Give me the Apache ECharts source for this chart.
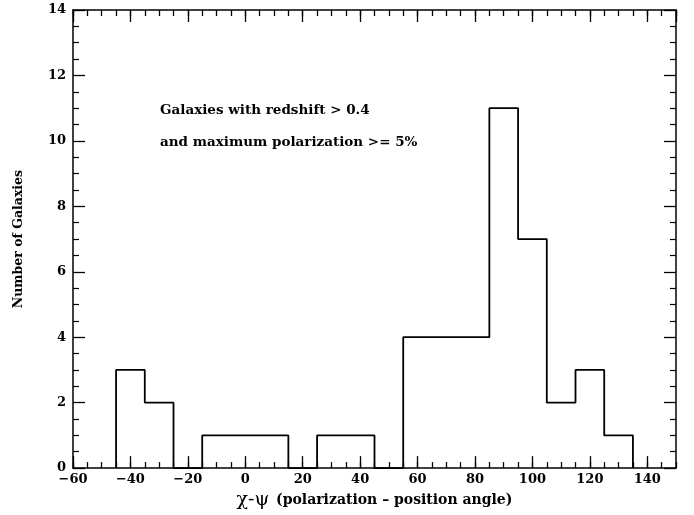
<!DOCTYPE html>
<html>
<head>
<meta charset="utf-8">
<script src="https://cdn.jsdelivr.net/npm/echarts@6/dist/echarts.min.js"></script>
<style>
html,body{margin:0;padding:0;background:#fff;}
#chart{width:694px;height:515px;}
</style>
</head>
<body>
<div id="chart"></div>
<script>
// Histogram bin edges (degrees) and counts per bin
var binEdges = [-45, -35, -25, -15, -5, 5, 15, 25, 35, 45, 55, 65, 75, 85, 95, 105, 115, 125, 135];
var counts   = [3, 2, 0, 1, 1, 1, 0, 1, 1, 0, 4, 4, 4, 11, 7, 2, 3, 1];
var annotationLines = ['Galaxies with redshift > 0.4', 'and maximum polarization >= 5%'];
var xTitleSymbol = 'χ-ψ';
var xTitleText = '(polarization – position angle)';
var yTitle = 'Number of Galaxies';

// Build step outline points from the bins
var outline = [[binEdges[0], 0]];
for (var i = 0; i < counts.length; i++) {
  outline.push([binEdges[i], counts[i]]);
  outline.push([binEdges[i + 1], counts[i]]);
}
outline.push([binEdges[binEdges.length - 1], 0]);

var FONT = 'DejaVu Serif';
var lineCol = '#000';

function fmt(v) { return v < 0 ? '−' + Math.abs(v) : String(v); }

function xAxisDef(pos, interval, tickLen, showLabel, showLine) {
  return {
    type: 'value', position: pos, min: -60, max: 150, interval: interval,
    axisLine: { show: showLine, onZero: false, lineStyle: { color: lineCol, width: 1.5 } },
    axisTick: { show: true, inside: true, length: tickLen, lineStyle: { color: lineCol, width: 1.3 } },
    axisLabel: { show: showLabel, showMaxLabel: false, margin: 5, formatter: fmt, color: '#000', fontFamily: FONT, fontWeight: 'bold', fontSize: 13 },
    splitLine: { show: false }
  };
}
function yAxisDef(pos, showLabel) {
  return {
    type: 'value', position: pos, min: 0, max: 14, interval: 2,
    axisLine: { show: true, onZero: false, lineStyle: { color: lineCol, width: 1.5 } },
    axisTick: { show: true, inside: true, length: 12, lineStyle: { color: lineCol, width: 1.3 } },
    minorTick: { show: true, splitNumber: 4, length: 6, lineStyle: { color: lineCol, width: 1.2 } },
    axisLabel: { show: showLabel, margin: 7, color: '#000', fontFamily: FONT, fontWeight: 'bold', fontSize: 13 },
    splitLine: { show: false }, minorSplitLine: { show: false }
  };
}

var chart = echarts.init(document.getElementById('chart'));
var xs = [
  xAxisDef('bottom', 20, 12, true, true),
  xAxisDef('bottom', 5, 6, false, false),
  xAxisDef('top', 20, 12, false, true),
  xAxisDef('top', 5, 6, false, false)
];
xs[0].name = '{a|' + xTitleSymbol + '}  {b|' + xTitleText + '}';
xs[0].nameLocation = 'middle';
xs[0].nameGap = 22;
xs[0].nameTextStyle = {
  color: '#000',
  rich: {
    a: { fontFamily: FONT, fontSize: 19, color: '#000', padding: [0, 0, 0, 0] },
    b: { fontFamily: FONT, fontWeight: 'bold', fontSize: 14, color: '#000' }
  }
};
var ys = [yAxisDef('left', true), yAxisDef('right', false)];
ys[0].name = yTitle;
ys[0].nameLocation = 'middle';
ys[0].nameGap = 48;
ys[0].nameTextStyle = { color: '#000', fontFamily: FONT, fontWeight: 'bold', fontSize: 12.5 };

chart.setOption({
  animation: false,
  backgroundColor: '#fff',
  grid: { left: 73, right: 18, top: 10, bottom: 42 },
  xAxis: xs,
  yAxis: ys,
  graphic: [
    { type: 'text', left: 160, top: 103, style: { text: annotationLines[0], font: 'bold 13.5px "DejaVu Serif"', fill: '#000' } },
    { type: 'text', left: 160, top: 135, style: { text: annotationLines[1], font: 'bold 13.5px "DejaVu Serif"', fill: '#000' } }
  ],
  series: [{
    type: 'line', xAxisIndex: 0, yAxisIndex: 0,
    data: outline, showSymbol: false, symbol: 'none',
    lineStyle: { color: '#000', width: 1.8 },
    clip: false
  }]
});
</script>
</body>
</html>
